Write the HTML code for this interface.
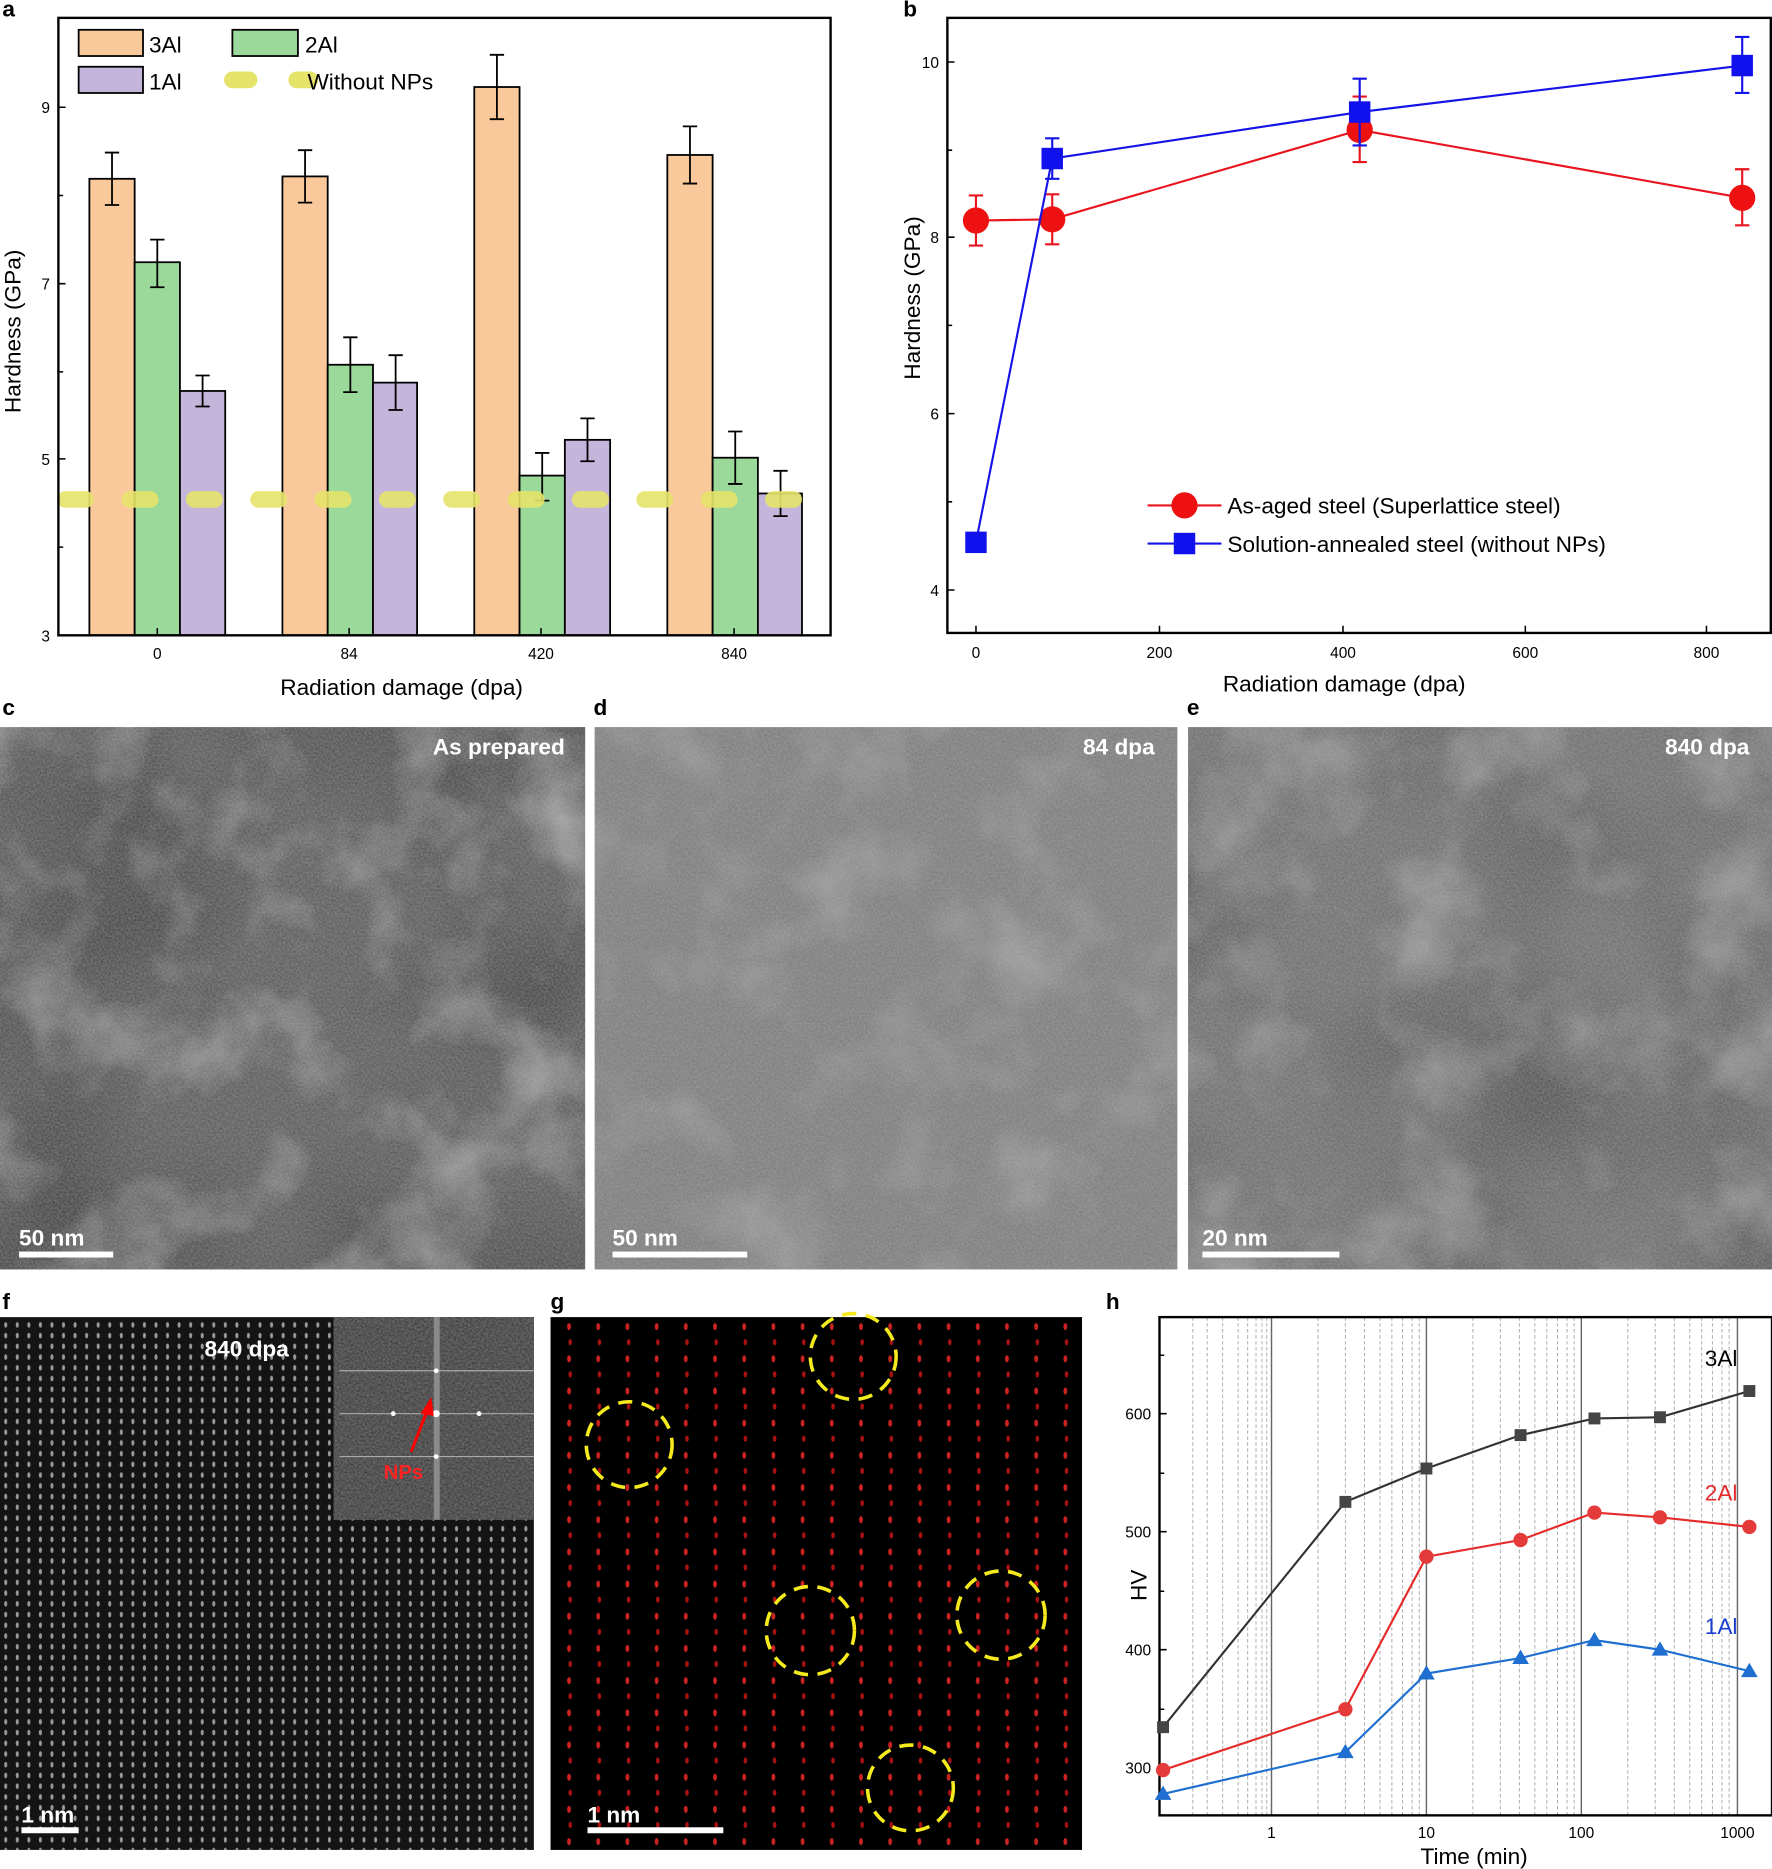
<!DOCTYPE html>
<html><head><meta charset="utf-8"><style>html,body{margin:0;padding:0;background:#fff}svg{display:block}text{font-family:"Liberation Sans",Arial,sans-serif}</style></head><body>
<svg width="1772" height="1869" viewBox="0 0 1487 1568" preserveAspectRatio="none" xmlns="http://www.w3.org/2000/svg">
<defs>
<filter id="n1" x="0" y="0" width="100%" height="100%"><feTurbulence type="fractalNoise" baseFrequency="0.012" numOctaves="4" seed="3"/><feColorMatrix type="matrix" values="0 0 0 0 1  0 0 0 0 1  0 0 0 0 1  0 0 0 1.6 -0.75"/></filter>
<filter id="n3" x="0" y="0" width="100%" height="100%"><feTurbulence type="fractalNoise" baseFrequency="0.006" numOctaves="2" seed="11"/><feColorMatrix type="matrix" values="0 0 0 0 0  0 0 0 0 0  0 0 0 0 0  0 0 0 1.4 -0.55"/></filter>
<filter id="n2" x="0" y="0" width="100%" height="100%"><feTurbulence type="fractalNoise" baseFrequency="0.6" numOctaves="1" seed="7"/><feColorMatrix type="matrix" values="0 0 0 0 0.5  0 0 0 0 0.5  0 0 0 0 0.5  0.6 0 0 0 -0.1"/></filter>
<pattern id="pf" width="9.7" height="9" patternUnits="userSpaceOnUse"><ellipse cx="4.8" cy="4.5" rx="1.3" ry="2.4" fill="#999"/></pattern>
<pattern id="pg" width="24.5" height="27" patternUnits="userSpaceOnUse"><ellipse cx="12" cy="6" rx="1.6" ry="3" fill="#c22"/><ellipse cx="13" cy="19" rx="1.5" ry="2.6" fill="#a11"/></pattern>
</defs>
<rect width="1487" height="1568" fill="#fff"/>
<g font-size="19" font-weight="bold"><text x="2" y="14">a</text><text x="758" y="14">b</text><text x="2" y="600">c</text><text x="498" y="600">d</text><text x="996" y="600">e</text><text x="2" y="1098">f</text><text x="462" y="1098">g</text><text x="928" y="1098">h</text></g>

<!-- Panel a -->
<g stroke="#000" stroke-width="1.5">
<rect x="75" y="150" width="38" height="383" fill="#f9c89b"/><rect x="113" y="220" width="38" height="313" fill="#9bd99b"/><rect x="151" y="328" width="38" height="205" fill="#c4b5db"/>
<rect x="237" y="148" width="38" height="385" fill="#f9c89b"/><rect x="275" y="306" width="38" height="227" fill="#9bd99b"/><rect x="313" y="321" width="37" height="212" fill="#c4b5db"/>
<rect x="398" y="73" width="38" height="460" fill="#f9c89b"/><rect x="436" y="399" width="38" height="134" fill="#9bd99b"/><rect x="474" y="369" width="38" height="164" fill="#c4b5db"/>
<rect x="560" y="130" width="38" height="403" fill="#f9c89b"/><rect x="598" y="384" width="38" height="149" fill="#9bd99b"/><rect x="636" y="414" width="37" height="119" fill="#c4b5db"/>
</g>
<g stroke="#000" stroke-width="1.5" fill="none">
<path d="M94 128V172M88 128H100M88 172H100 M132 201V241M126 201H138M126 241H138 M170 315V341M164 315H176M164 341H176"/>
<path d="M256 126V170M250 126H262M250 170H262 M294 283V329M288 283H300M288 329H300 M332 298V344M326 298H338M326 344H338"/>
<path d="M417 46V100M411 46H423M411 100H423 M455 380V420M449 380H461M449 420H461 M493 351V387M487 351H499M487 387H499"/>
<path d="M579 106V154M573 106H585M573 154H585 M617 362V406M611 362H623M611 406H623 M655 395V433M649 395H661M649 433H661"/>
</g>
<line x1="55" y1="419" x2="697" y2="419" stroke="#e6e36a" stroke-opacity="0.9" stroke-width="14" stroke-linecap="round" stroke-dasharray="17,37"/>
<rect x="49" y="15" width="648" height="518" fill="none" stroke="#000" stroke-width="2"/>
<g stroke="#000" stroke-width="1.3"><path d="M49 90h6M49 164h4M49 238h6M49 312h4M49 385h6M49 459h4M132 533v-6M293 533v-6M454 533v-6M616 533v-6"/></g>
<g font-size="13" text-anchor="end"><text x="42" y="95">9</text><text x="42" y="243">7</text><text x="42" y="390">5</text><text x="42" y="538">3</text></g>
<g font-size="13" text-anchor="middle"><text x="132" y="553">0</text><text x="293" y="553">84</text><text x="454" y="553">420</text><text x="616" y="553">840</text></g>
<text x="337" y="583" font-size="19" text-anchor="middle">Radiation damage (dpa)</text>
<text transform="translate(17,278) rotate(-90)" font-size="19" text-anchor="middle">Hardness (GPa)</text>
<rect x="66" y="25" width="54" height="22" fill="#f9c89b" stroke="#000" stroke-width="1.5"/><text x="125" y="44" font-size="19">3Al</text>
<rect x="195" y="25" width="55" height="22" fill="#9bd99b" stroke="#000" stroke-width="1.5"/><text x="256" y="44" font-size="19">2Al</text>
<rect x="66" y="56" width="54" height="22" fill="#c4b5db" stroke="#000" stroke-width="1.5"/><text x="125" y="75" font-size="19">1Al</text>
<line x1="195" y1="67" x2="260" y2="67" stroke="#e6e36a" stroke-width="14" stroke-linecap="round" stroke-dasharray="14,40"/><text x="258" y="75" font-size="19">Without NPs</text>

<!-- Panel b -->
<rect x="795" y="15" width="691" height="516" fill="none" stroke="#000" stroke-width="2"/>
<g stroke="#000" stroke-width="1.3"><path d="M795 52h6M795 126h4M795 199h6M795 273h4M795 347h6M795 421h4M795 495h6M819 531v-6M973 531v-6M1127 531v-6M1280 531v-6M1432 531v-6"/></g>
<g font-size="13" text-anchor="end"><text x="788" y="57">10</text><text x="788" y="204">8</text><text x="788" y="352">6</text><text x="788" y="500">4</text></g>
<g font-size="13" text-anchor="middle"><text x="819" y="552">0</text><text x="973" y="552">200</text><text x="1127" y="552">400</text><text x="1280" y="552">600</text><text x="1432" y="552">800</text></g>
<text x="1128" y="580" font-size="19" text-anchor="middle">Radiation damage (dpa)</text>
<text transform="translate(772,250) rotate(-90)" font-size="19" text-anchor="middle">Hardness (GPa)</text>
<g stroke="#e8141e" stroke-width="1.8" fill="none"><polyline points="819,185 883,184 1141,109 1462,166"/>
<path d="M819 164V206M813 164H825M813 206H825 M883 163V205M877 163H889M877 205H889 M1141 81V136M1135 81H1147M1135 136H1147 M1462 142V189M1456 142H1468M1456 189H1468"/></g>
<g fill="#ee1111"><circle cx="819" cy="185" r="11"/><circle cx="883" cy="184" r="11"/><circle cx="1141" cy="109" r="11"/><circle cx="1462" cy="166" r="11"/></g>
<g stroke="#1414e6" stroke-width="1.8" fill="none"><polyline points="819,455 883,133 1141,94 1462,55"/>
<path d="M883 116V150M877 116H889M877 150H889 M1141 66V122M1135 66H1147M1135 122H1147 M1462 31V78M1456 31H1468M1456 78H1468"/></g>
<g fill="#1111ee"><rect x="810" y="446" width="18" height="18"/><rect x="874" y="124" width="18" height="18"/><rect x="1132" y="85" width="18" height="18"/><rect x="1453" y="46" width="18" height="18"/></g>
<line x1="963" y1="424" x2="1025" y2="424" stroke="#e8141e" stroke-width="1.8"/><circle cx="994" cy="424" r="11" fill="#ee1111"/><text x="1030" y="431" font-size="19">As-aged steel (Superlattice steel)</text>
<line x1="963" y1="456" x2="1025" y2="456" stroke="#1414e6" stroke-width="1.8"/><rect x="985" y="447" width="18" height="18" fill="#1111ee"/><text x="1030" y="463" font-size="19">Solution-annealed steel (without NPs)</text>

<!-- Panels c d e -->
<rect x="0" y="610" width="491" height="455" fill="#5c5c5c"/>
<rect x="0" y="610" width="491" height="455" filter="url(#n3)" opacity="0.5"/>
<rect x="0" y="610" width="491" height="455" filter="url(#n1)" opacity="0.6"/>
<rect x="0" y="610" width="491" height="455" filter="url(#n2)"/>
<rect x="499" y="610" width="489" height="455" fill="#7d7d7d"/>
<rect x="499" y="610" width="489" height="455" filter="url(#n1)" opacity="0.35"/>
<rect x="499" y="610" width="489" height="455" filter="url(#n2)"/>
<rect x="997" y="610" width="490" height="455" fill="#707070"/>
<rect x="997" y="610" width="490" height="455" filter="url(#n3)" opacity="0.35"/>
<rect x="997" y="610" width="490" height="455" filter="url(#n1)" opacity="0.45"/>
<rect x="997" y="610" width="490" height="455" filter="url(#n2)"/>
<g fill="#fff" font-weight="bold" font-size="19"><text x="474" y="633" text-anchor="end">As prepared</text><text x="969" y="633" text-anchor="end">84 dpa</text><text x="1468" y="633" text-anchor="end">840 dpa</text>
<text x="16" y="1045">50 nm</text><text x="514" y="1045">50 nm</text><text x="1009" y="1045">20 nm</text>
<rect x="16" y="1050" width="79" height="5"/><rect x="514" y="1050" width="113" height="5"/><rect x="1009" y="1050" width="115" height="5"/></g>

<!-- Panel f -->
<rect x="0" y="1105" width="448" height="447" fill="#141414"/>
<rect x="0" y="1105" width="448" height="447" fill="url(#pf)"/>
<rect x="280" y="1105" width="168" height="170" fill="#3c3c3c"/>
<rect x="280" y="1105" width="168" height="170" filter="url(#n2)"/>
<rect x="364" y="1105" width="5" height="170" fill="#8a8a8a"/>
<g stroke="#aaa" stroke-width="1"><line x1="285" y1="1150" x2="448" y2="1150"/><line x1="285" y1="1186" x2="448" y2="1186"/><line x1="285" y1="1222" x2="448" y2="1222"/></g>
<g fill="#fff"><circle cx="366" cy="1186" r="3"/><circle cx="330" cy="1186" r="2"/><circle cx="402" cy="1186" r="2"/><circle cx="366" cy="1150" r="2"/><circle cx="366" cy="1222" r="2"/></g>
<line x1="345" y1="1218" x2="359" y2="1182" stroke="#f00" stroke-width="2.5"/><polygon points="362,1172 353,1186 364,1188" fill="#f00"/>
<text x="322" y="1241" fill="#f22" font-size="17" font-weight="bold">NPs</text>
<text x="207" y="1138" fill="#fff" font-size="19" font-weight="bold" text-anchor="middle">840 dpa</text>
<text x="18" y="1529" fill="#fff" font-size="19" font-weight="bold">1 nm</text><rect x="18" y="1533" width="48" height="5" fill="#fff"/>

<!-- Panel g -->
<rect x="462" y="1105" width="446" height="447" fill="#000"/>
<rect x="462" y="1105" width="446" height="447" fill="url(#pg)"/>
<g fill="none" stroke="#f4ea1e" stroke-width="3" stroke-dasharray="12,8"><circle cx="716" cy="1138" r="36"/><circle cx="528" cy="1212" r="36"/><circle cx="680" cy="1368" r="37"/><circle cx="840" cy="1355" r="37"/><circle cx="764" cy="1500" r="36"/></g>
<text x="493" y="1529" fill="#fff" font-size="19" font-weight="bold">1 nm</text><rect x="493" y="1533" width="114" height="5" fill="#fff"/>

<!-- Panel h -->
<g stroke="#aaa" stroke-width="0.8" stroke-dasharray="3,2">
<path d="M1026 1105v418M1039 1105v418M1047 1105v418M1054 1105v418M1059 1105v418M1063 1105v418M1106 1105v418M1129 1105v418M1145 1105v418M1158 1105v418M1168 1105v418M1177 1105v418M1185 1105v418M1191 1105v418M1236 1105v418M1259 1105v418M1275 1105v418M1288 1105v418M1298 1105v418M1307 1105v418M1315 1105v418M1321 1105v418M1366 1105v418M1389 1105v418M1405 1105v418M1418 1105v418M1428 1105v418M1437 1105v418M1445 1105v418M1451 1105v418M1001 1105v418M1013 1105v418"/></g>
<g stroke="#666" stroke-width="1.2"><path d="M1067 1105v418M1197 1105v418M1327 1105v418M1458 1105v418"/></g>
<rect x="973" y="1105" width="514" height="418" fill="none" stroke="#000" stroke-width="2"/>
<g stroke="#000" stroke-width="1.3"><path d="M973 1186h6M973 1236h4M973 1285h6M973 1335h4M973 1384h6M973 1434h4M973 1483h6M973 1137h4"/></g>
<g font-size="13" text-anchor="end"><text x="966" y="1191">600</text><text x="966" y="1290">500</text><text x="966" y="1389">400</text><text x="966" y="1488">300</text></g>
<g font-size="13" text-anchor="middle"><text x="1067" y="1542">1</text><text x="1197" y="1542">10</text><text x="1327" y="1542">100</text><text x="1458" y="1542">1000</text></g>
<text x="1237" y="1564" font-size="19" text-anchor="middle">Time (min)</text>
<text transform="translate(962,1330) rotate(-90)" font-size="19" text-anchor="middle">HV</text>
<polyline points="976,1449 1129,1260 1197,1232 1276,1204 1338,1190 1393,1189 1468,1167" fill="none" stroke="#333" stroke-width="1.8"/>
<g fill="#444"><rect x="971" y="1444" width="10" height="10"/><rect x="1124" y="1255" width="10" height="10"/><rect x="1192" y="1227" width="10" height="10"/><rect x="1271" y="1199" width="10" height="10"/><rect x="1333" y="1185" width="10" height="10"/><rect x="1388" y="1184" width="10" height="10"/><rect x="1463" y="1162" width="10" height="10"/></g>
<polyline points="976,1485 1129,1434 1197,1306 1276,1292 1338,1269 1393,1273 1468,1281" fill="none" stroke="#e52b2b" stroke-width="1.8"/>
<g fill="#e53a3a"><circle cx="976" cy="1485" r="6"/><circle cx="1129" cy="1434" r="6"/><circle cx="1197" cy="1306" r="6"/><circle cx="1276" cy="1292" r="6"/><circle cx="1338" cy="1269" r="6"/><circle cx="1393" cy="1273" r="6"/><circle cx="1468" cy="1281" r="6"/></g>
<polyline points="976,1505 1129,1470 1197,1404 1276,1391 1338,1376 1393,1384 1468,1402" fill="none" stroke="#1e6fd0" stroke-width="1.8"/>
<g fill="#1e6fd0"><polygon points="976,1498 983,1510 969,1510"/><polygon points="1129,1463 1136,1475 1122,1475"/><polygon points="1197,1397 1204,1409 1190,1409"/><polygon points="1276,1384 1283,1396 1269,1396"/><polygon points="1338,1369 1345,1381 1331,1381"/><polygon points="1393,1377 1400,1389 1386,1389"/><polygon points="1468,1395 1475,1407 1461,1407"/></g>
<text x="1458" y="1146" font-size="19" text-anchor="end">3Al</text>
<text x="1458" y="1259" font-size="19" text-anchor="end" fill="#e52b2b">2Al</text>
<text x="1458" y="1371" font-size="19" text-anchor="end" fill="#1a3fd0">1Al</text>
</svg>
</body></html>
